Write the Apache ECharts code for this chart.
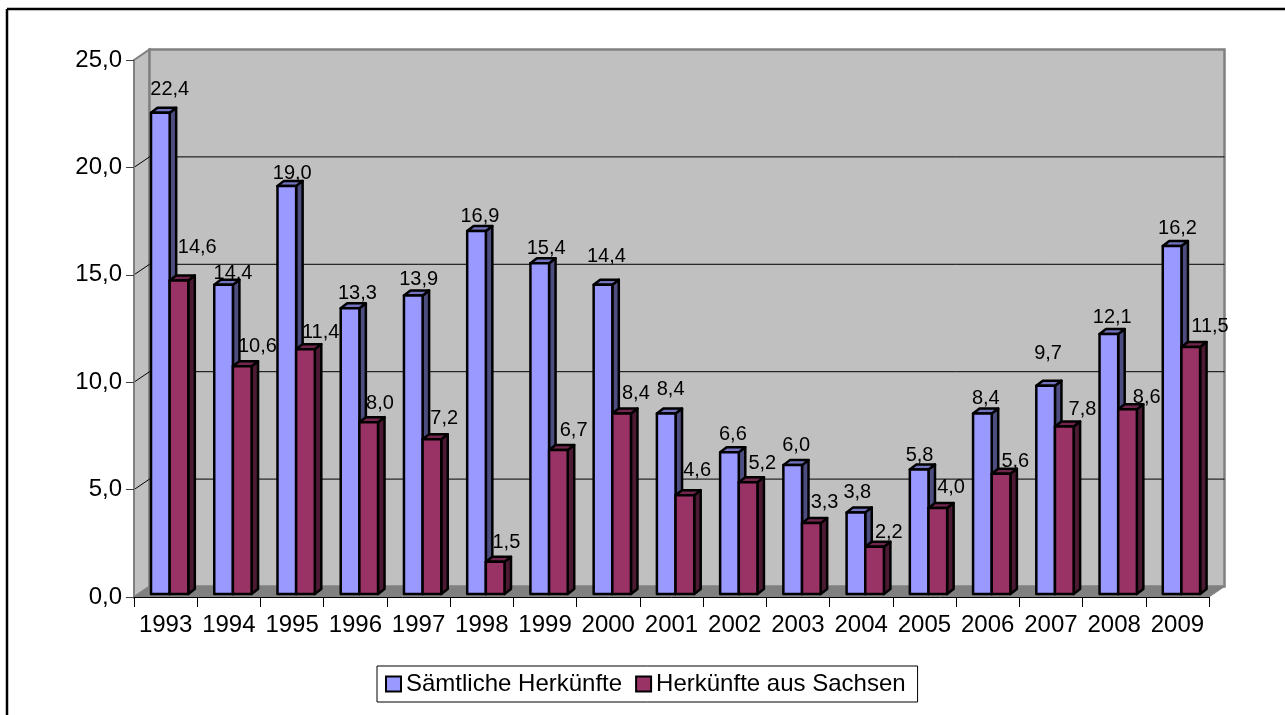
<!DOCTYPE html>
<html>
<head>
<meta charset="utf-8">
<style>html,body{margin:0;padding:0;background:#fff}#c{width:1285px;height:715px}</style>
<script src="https://cdn.jsdelivr.net/npm/echarts@6/dist/echarts.min.js"></script>
</head>
<body>
<div id="c"></div>
<script>
const years = ['1993','1994','1995','1996','1997','1998','1999','2000','2001','2002','2003','2004','2005','2006','2007','2008','2009'];
const alleHerkuenfte = [22.4,14.4,19.0,13.3,13.9,16.9,15.4,14.4,8.4,6.6,6.0,3.8,5.8,8.4,9.7,12.1,16.2];
const ausSachsen = [14.6,10.6,11.4,8.0,7.2,1.5,6.7,8.4,4.6,5.2,3.3,2.2,4.0,5.6,7.8,8.6,11.5];
const yTicks = [0,5,10,15,20,25];

// label nudges relative to the top centre of each bar (style, not data)
const nudgeBlueX = [9,9,5,7,5,3,6,3,4,3,3,1,0,3,2,3,5];
const nudgeBlueY = [-25,-13,-14,-16,-17,-16,-16,-30,-26,-19,-21,-21,-15,-17,-34,-18,-19];
const nudgeRedX = [17,14,14,10,11,10,14,13,11,13,12,13,12,13,17,18,18];
const nudgeRedY = [-34,-21,-18,-20,-22,-21,-21,-22,-26,-20,-22,-16,-22,-14,-18,-13,-22];

const DX = 15.5, DY = -10.5;       // wall depth
const BX = 6.5, BY = -5;           // bar depth
const fmt = v => v.toFixed(1).replace('.', ',');
const FONT = '"Liberation Sans", Arial, sans-serif';

function wallItem(params, api) {
  const g = params.coordSys;
  const x0 = g.x, x1 = g.x + g.width, yT = g.y, yB = g.y + g.height;
  const kids = [];
  kids.push({type:'polygon', shape:{points:[[x0,yT],[x0+DX,yT+DY],[x0+DX,yB+DY],[x0,yB]]}, style:{fill:'#c0c0c0',stroke:'#808080',lineWidth:2}});
  kids.push({type:'rect', shape:{x:x0+DX,y:yT+DY,width:g.width,height:g.height}, style:{fill:'#c0c0c0',stroke:'#808080',lineWidth:2.5}});
  kids.push({type:'polygon', shape:{points:[[x0,yB],[x0+DX,yB+DY],[x1+DX,yB+DY],[x1,yB]]}, style:{fill:'#808080',stroke:'#808080',lineWidth:1}});
  yTicks.forEach(t => {
    if (t === 0 || t === 25) return;
    const y = api.coord([0, t])[1];
    kids.push({type:'line', shape:{x1:x0,y1:y,x2:x0+DX,y2:y+DY}, style:{stroke:'#000',lineWidth:1}});
    kids.push({type:'line', shape:{x1:x0+DX,y1:y+DY,x2:x1+DX,y2:y+DY}, style:{stroke:'#000',lineWidth:1}});
  });
  return {type:'group', children:kids};
}

function barRenderer(slot, front, side, top, nudgeX, nudgeY) {
  return function (params, api) {
    const i = api.value(0), v = api.value(1);
    const cat = api.size([1,0])[0];
    const tickL = api.coord([i, 0])[0] - cat / 2;
    const base = api.coord([i, 0])[1] - 3;
    const h = api.coord([i, 0])[1] - api.coord([i, v])[1];
    const w = cat * 0.295;
    const l = tickL + cat * 0.269 + slot * w;
    const r = l + w, t = base - h;
    const labelX = tickL + cat * 0.269 + (slot + 0.5) * cat * 0.308 + nudgeX[i];
    const line = {stroke:'#000', lineWidth:2.5, lineJoin:'round'};
    return {type:'group', children:[
      {type:'polygon', shape:{points:[[r,t],[r+BX,t+BY],[r+BX,base+BY],[r,base]]}, style:Object.assign({fill:side},line)},
      {type:'polygon', shape:{points:[[l,t],[l+BX,t+BY],[r+BX,t+BY],[r,t]]}, style:Object.assign({fill:top},line)},
      {type:'rect', shape:{x:l,y:t,width:w,height:h}, style:Object.assign({fill:front},line)},
      {type:'text', z2:50, style:{text:fmt(v), x:labelX, y:t+nudgeY[i]+1.5, align:'center', verticalAlign:'middle', fill:'#000', font:'20px '+FONT}}
    ]};
  };
}

const chart = echarts.init(document.getElementById('c'), null, {renderer:'canvas'});
chart.setOption({
  animation:false,
  backgroundColor:'#fff',
  graphic:[
    {type:'line', silent:true, shape:{x1:7,y1:9,x2:1285,y2:9}, style:{stroke:'#000',lineWidth:2.5}},
    {type:'line', silent:true, shape:{x1:7,y1:9,x2:7,y2:715}, style:{stroke:'#000',lineWidth:2.5}}
  ],
  grid:{left:134, top:60, width:1075, height:537, containLabel:false},
  xAxis:{type:'category', data:years, z:5,
    axisLine:{lineStyle:{color:'#000',width:1}},
    axisTick:{show:true, length:10, alignWithLabel:false, lineStyle:{color:'#000',width:1}},
    axisLabel:{color:'#000', fontSize:24, fontFamily:FONT, margin:16, interval:0, hideOverlap:false},
    splitLine:{show:false}},
  yAxis:{type:'value', min:0, max:25, interval:5, z:5,
    axisLine:{show:true, lineStyle:{color:'#808080',width:2}},
    axisTick:{show:true, length:8, lineStyle:{color:'#404040',width:1}},
    axisLabel:{color:'#000', fontSize:24, fontFamily:FONT, margin:12, padding:[7,0,0,0], formatter:v=>fmt(v)},
    splitLine:{show:false}},
  legend:{show:true, left:377, top:666, orient:'horizontal', padding:[6,12,6,8],
    backgroundColor:'#fff', borderColor:'#000', borderWidth:1, borderRadius:0,
    itemWidth:15, itemHeight:15, itemGap:13,
    textStyle:{color:'#000', fontSize:24, fontFamily:FONT},
    data:[{name:'Sämtliche Herkünfte',icon:'rect'},{name:'Herkünfte aus Sachsen',icon:'rect'}]},
  tooltip:{show:false},
  series:[
    {type:'custom', name:'wall', z:1, silent:true, coordinateSystem:'cartesian2d', data:[[0,0]], renderItem:wallItem, clip:false},
    {type:'custom', name:'Sämtliche Herkünfte', z:2, coordinateSystem:'cartesian2d',
      itemStyle:{color:'#9999ff',borderColor:'#000',borderWidth:2.5},
      data:alleHerkuenfte.map((v,i)=>[i,v]), encode:{x:0,y:1}, clip:false,
      renderItem:barRenderer(0,'#9999ff','#4d4d80','#7373bf',nudgeBlueX,nudgeBlueY)},
    {type:'custom', name:'Herkünfte aus Sachsen', z:3, coordinateSystem:'cartesian2d',
      itemStyle:{color:'#993366',borderColor:'#000',borderWidth:2.5},
      data:ausSachsen.map((v,i)=>[i,v]), encode:{x:0,y:1}, clip:false,
      renderItem:barRenderer(1,'#993366','#4d1a33','#73264d',nudgeRedX,nudgeRedY)}
  ]
});
</script>
</body>
</html>
